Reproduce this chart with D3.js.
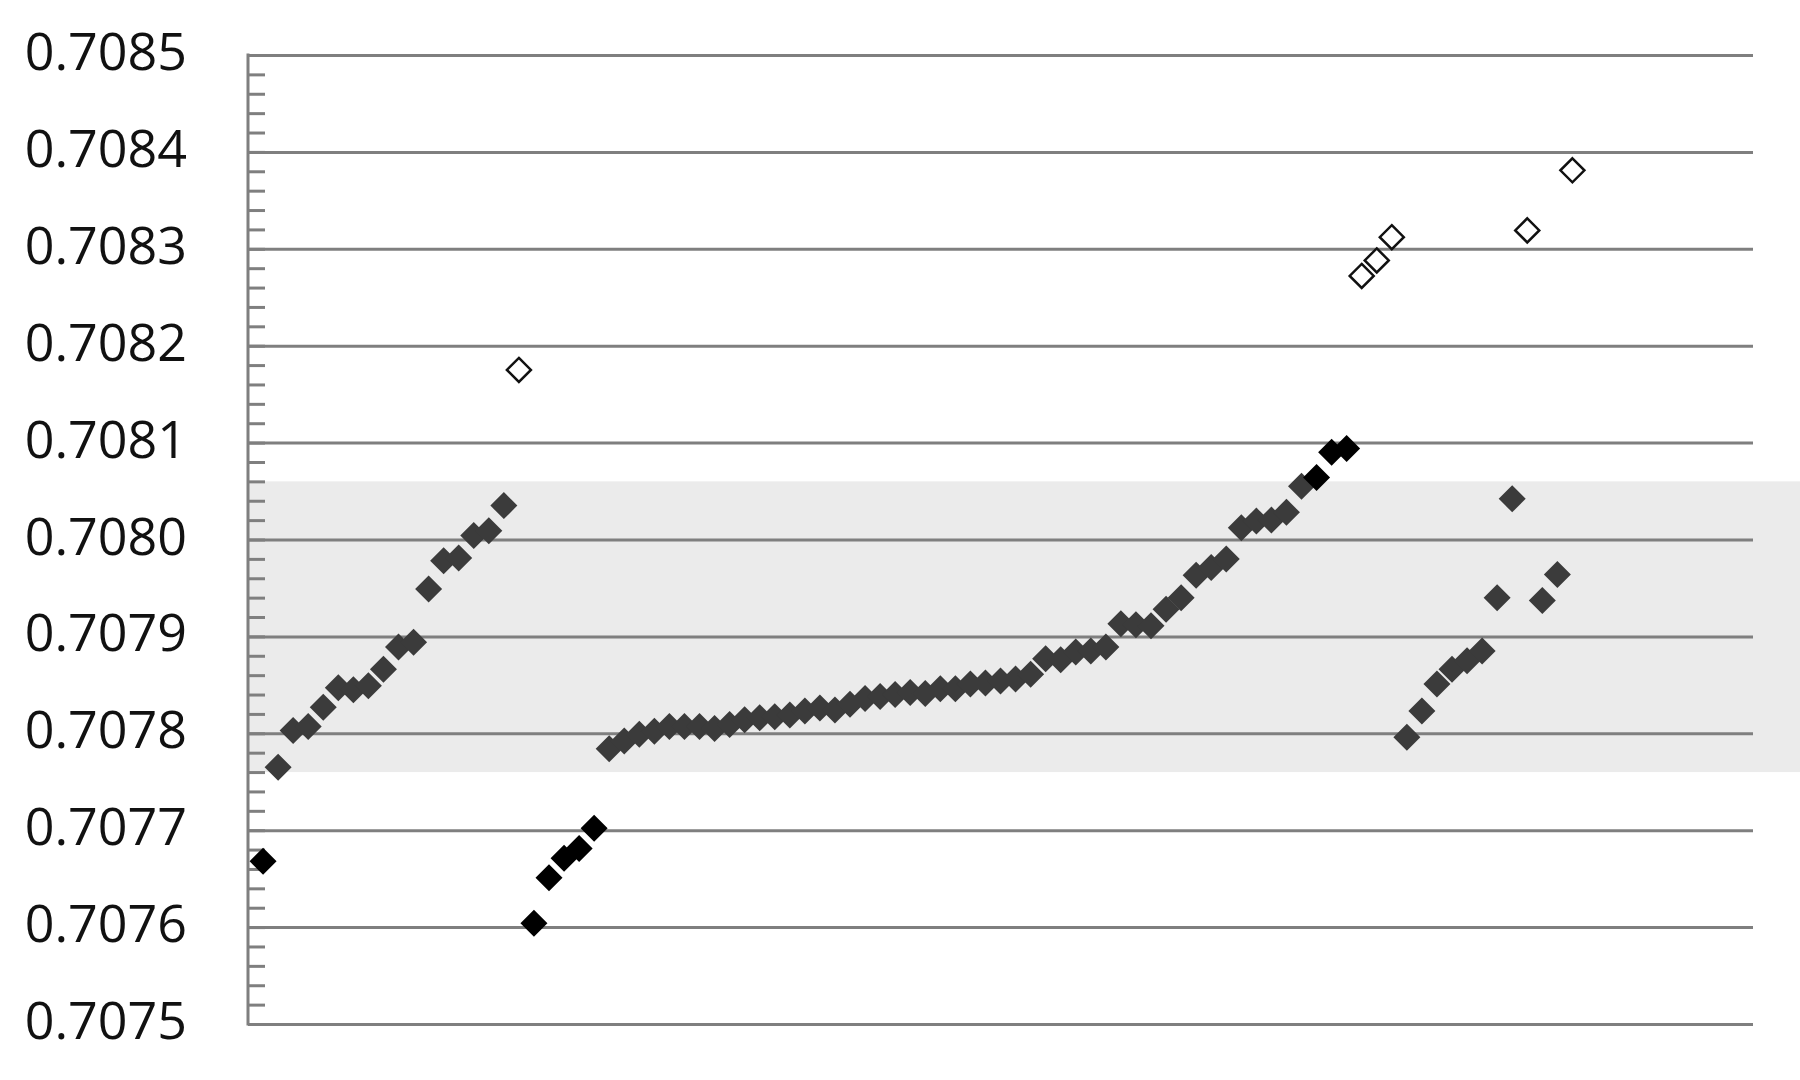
<!DOCTYPE html>
<html>
<head>
<meta charset="utf-8">
<script src="https://cdn.jsdelivr.net/npm/d3@7"></script>
<style>
  html, body { margin: 0; padding: 0; background: #fff; }
  svg { display: block; }
</style>
</head>
<body>
<svg id="chart" width="1800" height="1080"></svg>
<script>
// ---- data ----
const yTickValues = [0.7075, 0.7076, 0.7077, 0.7078, 0.7079, 0.7080, 0.7081, 0.7082, 0.7083, 0.7084, 0.7085];
const xDomain = [0, 100];
const yDomain = [0.7075, 0.7085];
const bandRange = [0.70776, 0.70806];

// grey filled diamonds (inside the shaded range)
const grayX = [2,3,4,5,6,7,8,9,10,11,12,13,14,15,16,17,
  24,25,26,27,28,29,30,31,32,33,34,35,36,37,38,39,40,41,42,43,44,45,46,47,48,49,50,51,52,53,54,55,56,57,58,59,60,61,62,63,64,65,66,67,68,69,70,
  77,78,79,80,81,82,83,84,86,87];
const grayY = [0.707765,0.707803,0.707807,0.707827,0.707847,0.707845,0.707849,0.707866,0.707889,0.707894,0.707949,0.707978,0.707981,0.708004,0.708009,0.708035,
  0.707784,0.707792,0.707799,0.707802,0.707807,0.707807,0.707807,0.707805,0.707809,0.707814,0.707816,0.707817,0.707819,0.707823,0.707826,0.707824,0.707830,0.707836,0.707838,0.707840,0.707842,0.707841,0.707846,0.707846,0.707851,0.707852,0.707854,0.707856,0.707861,0.707877,0.707876,0.707884,0.707885,0.707889,0.707913,0.707912,0.707911,0.707928,0.707940,0.707963,0.707971,0.707980,0.708012,0.708019,0.708020,0.708028,0.708055,
  0.707796,0.707823,0.707851,0.707866,0.707875,0.707885,0.707940,0.708042,0.707937,0.707964];

// black filled diamonds (outside the shaded range)
const blackX = [1, 19, 20, 21, 22, 23, 71, 72, 73];
const blackY = [0.707668, 0.707604, 0.707651, 0.707671, 0.707681, 0.707702, 0.708064, 0.708090, 0.708094];

// open diamonds
const openX = [18, 74, 75, 76, 85, 88];
const openY = [0.708175, 0.708272, 0.708288, 0.708312, 0.708319, 0.708381];

// ---- drawing ----
const svg = d3.select("#chart");
const mLeft = 248, mRight = 1753, mTop = 55, mBottom = 1024;
const x = d3.scaleLinear().domain(xDomain).range([mLeft, mRight]);
const y = d3.scaleLinear().domain(yDomain).range([mBottom, mTop]);
const gridColor = "#7f7f7f";

// shaded range band (runs past the plot to the page edge)
svg.append("rect")
  .attr("x", x(0) + 1)
  .attr("y", y(bandRange[1]))
  .attr("width", 1800 - x(0) - 1)
  .attr("height", y(bandRange[0]) - y(bandRange[1]))
  .attr("fill", "#ebebeb");

// horizontal gridlines
const grid = svg.append("g")
  .attr("transform", `translate(${mLeft},0)`)
  .call(d3.axisRight(y).tickValues(yTickValues).tickSize(mRight - mLeft).tickFormat(""));
grid.select(".domain").remove();
grid.selectAll("line").attr("stroke", gridColor).attr("stroke-width", 3);

// minor ticks on the inside of the vertical axis
const minor = svg.append("g")
  .attr("transform", `translate(${mLeft},0)`)
  .call(d3.axisRight(y).ticks(50).tickSize(17).tickFormat(""));
minor.select(".domain").remove();
minor.selectAll("line").attr("stroke", gridColor).attr("stroke-width", 3);

// vertical axis line
svg.append("line")
  .attr("x1", mLeft).attr("x2", mLeft)
  .attr("y1", y(yDomain[1]) - 1.5).attr("y2", y(yDomain[0]) + 1.5)
  .attr("stroke", gridColor).attr("stroke-width", 3);

// y labels
const yAxis = svg.append("g")
  .attr("transform", `translate(${mLeft},0)`)
  .call(d3.axisLeft(y).tickValues(yTickValues).tickFormat(d3.format(".4f")).tickSize(0).tickPadding(61));
yAxis.select(".domain").remove();
yAxis.selectAll("text")
  .attr("font-family", "'Open Sans', 'Noto Sans', sans-serif")
  .attr("font-size", 52)
  .attr("fill", "#111")
  .attr("dy", "0.28em");

// markers
const r = 13.5;
const diamond = `M0,${-r}L${r},0L0,${r}L${-r},0Z`;
function plot(xs, ys, fill) {
  svg.append("g").selectAll("path")
    .data(xs.map((d, i) => [d, ys[i]]))
    .join("path")
    .attr("d", diamond)
    .attr("transform", d => `translate(${x(d[0])},${y(d[1])})`)
    .attr("fill", fill);
}
plot(grayX, grayY, "#3b3b3b");
plot(blackX, blackY, "#000");
const ro = 12;
svg.append("g").selectAll("path")
  .data(openX.map((d, i) => [d, openY[i]]))
  .join("path")
  .attr("d", `M0,${-ro}L${ro},0L0,${ro}L${-ro},0Z`)
  .attr("transform", d => `translate(${x(d[0])},${y(d[1])})`)
  .attr("fill", "#fff")
  .attr("stroke", "#111")
  .attr("stroke-width", 2.5);
</script>
</body>
</html>
